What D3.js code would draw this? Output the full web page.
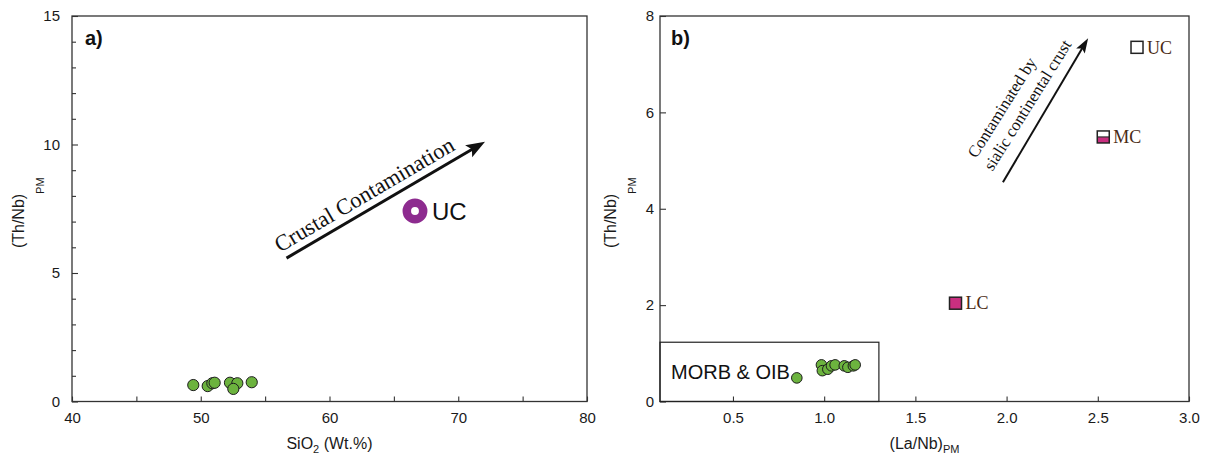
<!DOCTYPE html>
<html><head><meta charset="utf-8">
<script src="https://cdn.jsdelivr.net/npm/d3@7"></script>
<style>body{margin:0;background:#fff}svg{display:block}</style>
</head><body>
<svg id="c" width="1209" height="459"></svg>
<script>
// ---- data: panel a ----
const sio2  = [49.42, 50.54, 50.90, 51.08, 52.27, 52.84, 52.53, 53.96];
const thnbA = [0.64, 0.60, 0.71, 0.73, 0.73, 0.71, 0.49, 0.75];
const ucA = {name: "UC", x: 66.64, y: 7.41};
const arrowA = {x1: 56.66, y1: 5.58, x2: 72.08, y2: 10.11};
const arrowAText = {text: "Crustal Contamination", x: 63.0, y: 7.80};
const xTicksA = [40, 45, 50, 55, 60, 65, 70, 75, 80];
const xLabelsA = [40, 50, 60, 70, 80];
const yTicksA = d3.range(0, 16, 1);
const yLabelsA = [0, 5, 10, 15];

// ---- data: panel b ----
const laNb  = [0.85, 0.985, 0.99, 1.02, 1.04, 1.06, 1.11, 1.13, 1.16, 1.17];
const thnbB = [0.49, 0.76, 0.64, 0.67, 0.74, 0.76, 0.74, 0.71, 0.74, 0.76];
const crustNames = ["UC", "MC", "LC"];
const crustX = [2.715, 2.53, 1.72];
const crustY = [7.35, 5.49, 2.04];
const crustStyle = ["open", "half", "filled"];
const morbBox = {x0: 0.1, x1: 1.3, y0: 0, y1: 1.23, label: "MORB & OIB"};
const arrowB = {x1: 1.98, y1: 4.55, x2: 2.447, y2: 7.54};
const arrowBText = [
  {text: "Contaminated by", x: 1.975, y: 6.10},
  {text: "sialic continental crust", x: 2.115, y: 6.15}
];
const xTicksB = [0.5, 1.0, 1.5, 2.0, 2.5, 3.0];
const yTicksB = [0, 2, 4, 6, 8];

const svg = d3.select("#c");
const GREEN = "#6cb33e", MAG = "#c92f80", PURPLE = "#8d2b8f", BROWN = "#4a2b15";
const SANS = "'Liberation Sans', Arial, sans-serif";
const SERIF = "'Liberation Serif', 'Times New Roman', serif";

function arrow(g, x1, y1, x2, y2, sw, L, W) {
  const dx = x2 - x1, dy = y2 - y1, len = Math.hypot(dx, dy);
  const ux = dx / len, uy = dy / len, px = -uy, py = ux;
  const bx = x2 - ux * L, by = y2 - uy * L;
  g.append("line").attr("x1", x1).attr("y1", y1)
    .attr("x2", x2 - ux * L * 0.6).attr("y2", y2 - uy * L * 0.6)
    .attr("stroke", "#111").attr("stroke-width", sw);
  g.append("path")
    .attr("d", `M${x2},${y2}L${bx + px * W},${by + py * W}L${bx + ux * L * 0.2},${by + uy * L * 0.2}L${bx - px * W},${by - py * W}Z`)
    .attr("fill", "#111");
}

function styleAxis(g) {
  g.select(".domain").remove();
  g.selectAll("line").attr("stroke", "#333").attr("stroke-width", 1.1);
  g.selectAll("text").attr("font-family", SANS).attr("font-size", 15).attr("fill", "#1a1a1a");
}

function yTitle(x, yc, main, sub, subDy) {
  const t = svg.append("text")
    .attr("transform", `translate(${x},${yc}) rotate(-90)`)
    .attr("text-anchor", "middle")
    .attr("font-family", SANS).attr("font-size", 16).attr("fill", "#1a1a1a");
  t.append("tspan").text(main);
  t.append("tspan").attr("font-size", 11).attr("dy", subDy).text(sub);
}

// ===================== Panel a =====================
{
  const L = 72, R = 587, T = 16, B = 401.5;
  const x = d3.scaleLinear().domain([40, 80]).range([L, R]);
  const y = d3.scaleLinear().domain([0, 15]).range([B, T]);
  const g = svg.append("g");

  g.append("g").attr("transform", `translate(0,${B})`)
    .call(d3.axisBottom(x).tickValues(xTicksA).tickSizeInner(-5).tickSizeOuter(0).tickPadding(11)
      .tickFormat(d => xLabelsA.includes(d) ? d : ""))
    .call(styleAxis);
  g.append("g").attr("transform", `translate(${L},0)`)
    .call(d3.axisLeft(y).tickValues(yTicksA).tickSizeOuter(0).tickPadding(6)
      .tickFormat(d => yLabelsA.includes(d) ? d : ""))
    .call(styleAxis)
    .call(a => a.selectAll(".tick line").attr("x2", d => yLabelsA.includes(d) ? 6 : 4));

  g.append("rect").attr("x", L).attr("y", T).attr("width", R - L).attr("height", B - T)
    .attr("fill", "none").attr("stroke", "#333").attr("stroke-width", 1.3);

  g.append("text").attr("x", L + 13).attr("y", T + 29).text("a)")
    .attr("font-family", SANS).attr("font-weight", "bold").attr("font-size", 20).attr("fill", "#111");

  // arrow + text
  arrow(g, x(arrowA.x1), y(arrowA.y1), x(arrowA.x2), y(arrowA.y2), 3, 19, 7);
  const ang = Math.atan2(y(arrowA.y2) - y(arrowA.y1), x(arrowA.x2) - x(arrowA.x1)) * 180 / Math.PI;
  g.append("text")
    .attr("transform", `translate(${x(arrowAText.x)},${y(arrowAText.y)}) rotate(${ang})`)
    .attr("text-anchor", "middle").attr("font-family", SERIF).attr("font-size", 22.5)
    .attr("fill", "#111").text(arrowAText.text);

  // UC ring
  g.append("circle").attr("cx", x(ucA.x)).attr("cy", y(ucA.y)).attr("r", 8.2)
    .attr("fill", "#fff").attr("stroke", PURPLE).attr("stroke-width", 8.5);
  g.append("text").attr("x", x(ucA.x) + 17).attr("y", y(ucA.y)).attr("dy", "0.36em")
    .attr("font-family", SANS).attr("font-size", 24).attr("fill", "#111").text(ucA.name);

  // samples
  g.selectAll("circle.s").data(sio2).join("circle").attr("class", "s")
    .attr("cx", d => x(d)).attr("cy", (d, i) => y(thnbA[i])).attr("r", 5.6)
    .attr("fill", GREEN).attr("stroke", "#1d1d1d").attr("stroke-width", 1);

  // titles
  const xt = svg.append("text").attr("x", (L + R) / 2).attr("y", 449).attr("text-anchor", "middle")
    .attr("font-family", SANS).attr("font-size", 16).attr("fill", "#1a1a1a");
  xt.append("tspan").text("SiO");
  xt.append("tspan").attr("font-size", 11).attr("dy", 4).text("2");
  xt.append("tspan").attr("dy", -4).text(" (Wt.%)");
  yTitle(24, (T + B) / 2 + 4, "(Th/Nb)", "PM", 20);
}

// ===================== Panel b =====================
{
  const L = 660, R = 1189, T = 16, B = 401.5;
  const x = d3.scaleLinear().domain([0.1, 3.0]).range([L, R]);
  const y = d3.scaleLinear().domain([0, 8]).range([B, T]);
  const g = svg.append("g");

  g.append("g").attr("transform", `translate(0,${B})`)
    .call(d3.axisBottom(x).tickValues(xTicksB).tickSizeInner(-5).tickSizeOuter(0).tickPadding(11)
      .tickFormat(d3.format(".1f")))
    .call(styleAxis);
  g.append("g").attr("transform", `translate(${L},0)`)
    .call(d3.axisLeft(y).tickValues(yTicksB).tickSizeInner(-6).tickSizeOuter(0).tickPadding(6))
    .call(styleAxis);

  g.append("rect").attr("x", L).attr("y", T).attr("width", R - L).attr("height", B - T)
    .attr("fill", "none").attr("stroke", "#333").attr("stroke-width", 1.3);

  g.append("text").attr("x", L + 11).attr("y", T + 29).text("b)")
    .attr("font-family", SANS).attr("font-weight", "bold").attr("font-size", 20).attr("fill", "#111");

  // MORB & OIB box
  g.append("rect").attr("x", x(morbBox.x0)).attr("y", y(morbBox.y1))
    .attr("width", x(morbBox.x1) - x(morbBox.x0)).attr("height", y(morbBox.y0) - y(morbBox.y1))
    .attr("fill", "none").attr("stroke", "#222").attr("stroke-width", 1.2);
  g.append("text").attr("x", x(morbBox.x0) + 11).attr("y", B - 23)
    .attr("font-family", SANS).attr("font-size", 20).attr("fill", "#111").text(morbBox.label);

  // arrow + text
  arrow(g, x(arrowB.x1), y(arrowB.y1), x(arrowB.x2), y(arrowB.y2), 2, 15, 5);
  arrowBText.forEach(t => {
    g.append("text")
      .attr("transform", `translate(${x(t.x)},${y(t.y)}) rotate(-58)`)
      .attr("text-anchor", "middle").attr("dominant-baseline", "central")
      .attr("font-family", SERIF).attr("font-size", 16.7).attr("fill", "#111").text(t.text);
  });

  // crust squares
  const s = 12;
  crustNames.forEach((nm, i) => {
    const cx = x(crustX[i]), cy = y(crustY[i]);
    const st = crustStyle[i];
    if (st === "half") {
      g.append("rect").attr("x", cx - s / 2).attr("y", cy).attr("width", s).attr("height", s / 2).attr("fill", MAG);
      g.append("line").attr("x1", cx - s / 2).attr("x2", cx + s / 2).attr("y1", cy).attr("y2", cy)
        .attr("stroke", "#333").attr("stroke-width", 1.2);
    }
    g.append("rect").attr("x", cx - s / 2).attr("y", cy - s / 2).attr("width", s).attr("height", s)
      .attr("fill", st === "filled" ? MAG : "none").attr("stroke", "#222").attr("stroke-width", 1.5);
    g.append("text").attr("x", cx + 10).attr("y", cy).attr("dy", "0.35em")
      .attr("font-family", SERIF).attr("font-size", 18).attr("fill", BROWN).text(nm);
  });

  // samples
  g.selectAll("circle.s").data(laNb).join("circle").attr("class", "s")
    .attr("cx", d => x(d)).attr("cy", (d, i) => y(thnbB[i])).attr("r", 5.3)
    .attr("fill", GREEN).attr("stroke", "#1d1d1d").attr("stroke-width", 1);

  const xt = svg.append("text").attr("x", (L + R) / 2).attr("y", 449).attr("text-anchor", "middle")
    .attr("font-family", SANS).attr("font-size", 16).attr("fill", "#1a1a1a");
  xt.append("tspan").text("(La/Nb)");
  xt.append("tspan").attr("font-size", 11).attr("dy", 4).text("PM");
  yTitle(616, (T + B) / 2 + 4, "(Th/Nb)", "PM", 20);
}
</script>
</body></html>
